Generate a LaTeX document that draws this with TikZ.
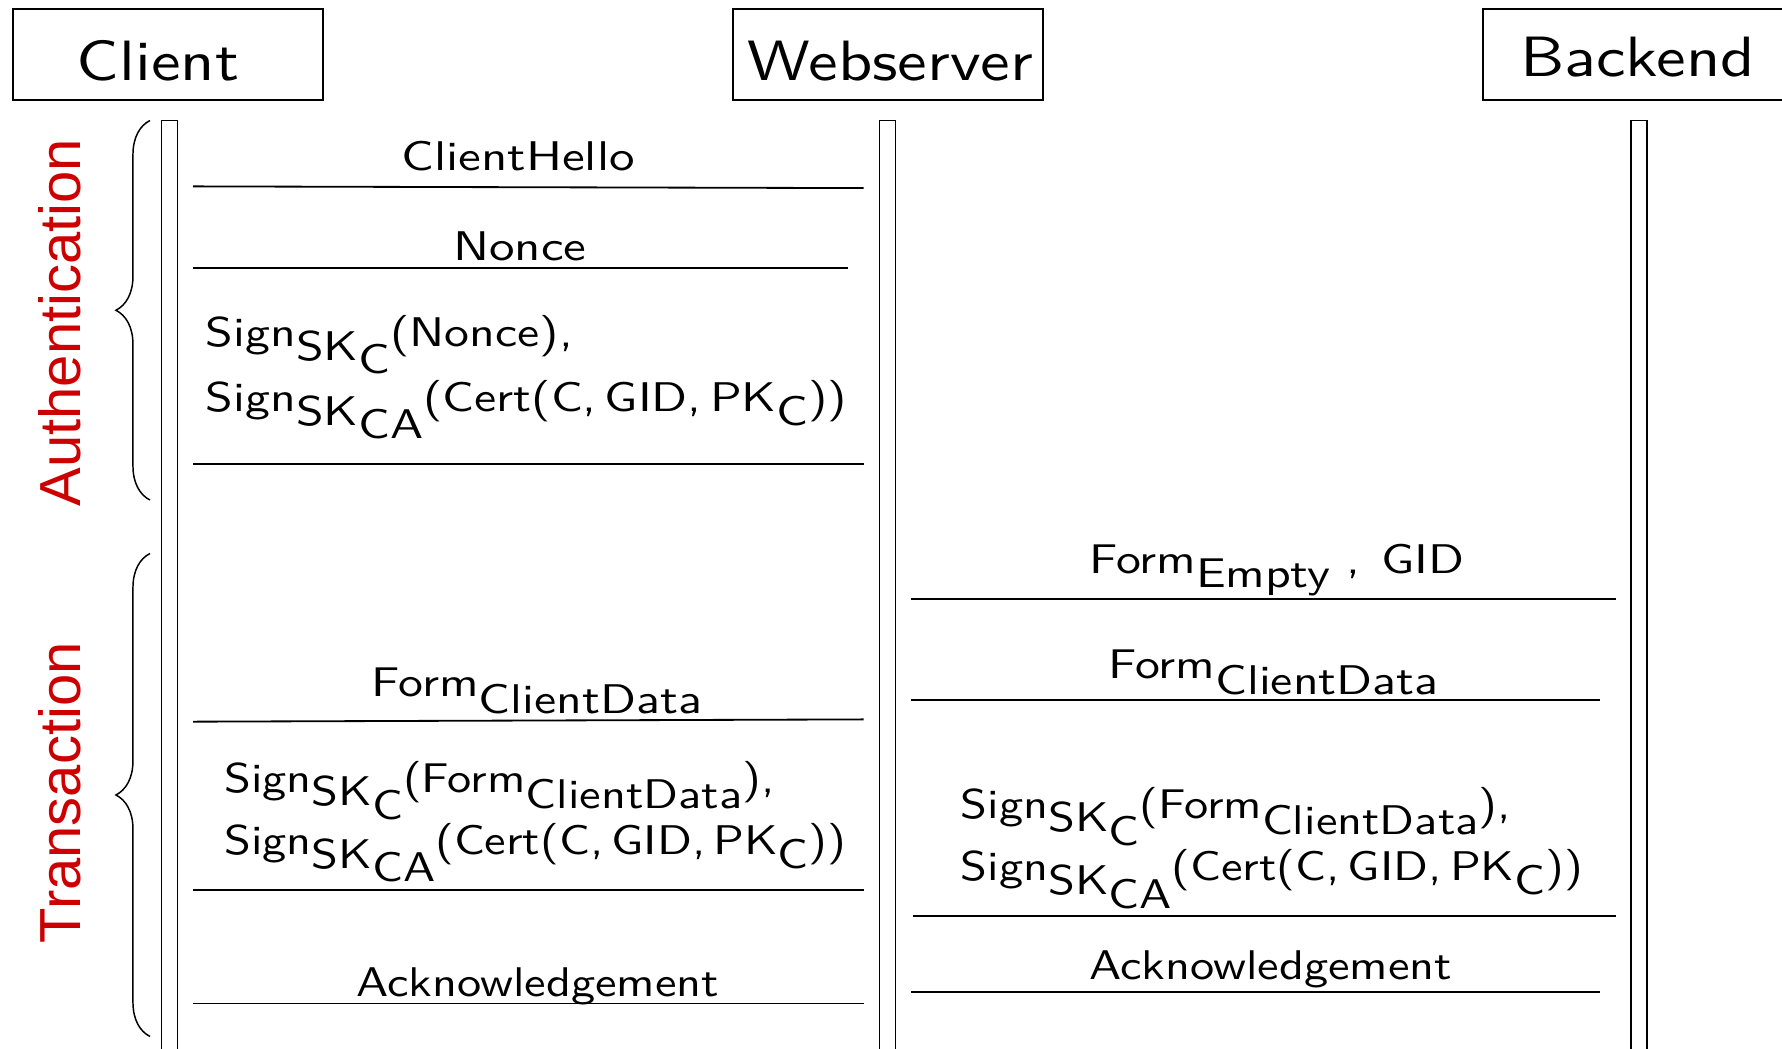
\documentclass[tikz,border=0pt]{standalone}
\usepackage{fontspec}
\newfontfamily\redfont{Liberation Sans}
\newfontfamily\lmss{lmsans10-regular}[Extension=.otf]
\usetikzlibrary{decorations.pathreplacing}
\definecolor{labred}{RGB}{204,0,0}
\newcommand\dn[1]{\raisebox{-12pt}{#1}}
\begin{document}
\begin{tikzpicture}[x=1pt,y=-1pt,
  headbox/.style={draw, line width=1.6pt, minimum width=273pt, minimum height=80pt, inner sep=0pt},
  headtext/.style={anchor=base, inner sep=0pt, xscale=1.17, font=\lmss\fontsize{50}{58}\selectfont},
  lifeline/.style={draw, line width=1.3pt},
  msg/.style={line width=1.6pt},
  lbl/.style={anchor=base, inner sep=0pt, xscale=#1, font=\lmss\fontsize{36.5}{44}\selectfont},
  lbl/.default=1.2,
  lbll/.style={lbl=#1, anchor=base west},
  lbll/.default=1.2,
  phase/.style={anchor=base, rotate=90, inner sep=0pt, text=labred, font=\redfont\fontsize{51}{51}\selectfont},
  brc/.style={line width=1.3pt, decorate, decoration={brace, amplitude=30pt}}
]
\clip (0,0) rectangle (1568,923);
\fill[white] (0,0) rectangle (1568,923);

% header boxes
\node[headbox] (client) at (148,47.7) {};
\node[headbox] (web) at (781.5,47.7) {};
\node[headbox] (back) at (1441.5,47.7) {};
\node[headtext] (clientT) at (139,71) {Client};
\node[headtext] (webT) at (783.5,71) {Webserver};
\node[headtext] (backT) at (1440.8,67.5) {Backend};

% lifelines
\draw[lifeline] (142,960) -- (142,106) -- (156,106) -- (156,960);
\draw[lifeline] (774,960) -- (774,106) -- (788,106) -- (788,960);
\draw[lifeline] (1435,960) -- (1435,106) -- (1449,106) -- (1449,960);

% braces
\coordinate (a1) at (132,440);
\coordinate (a2) at (132,106);
\coordinate (t1) at (132,912);
\coordinate (t2) at (132,487);
\draw[brc] (a1) -- (a2);
\draw[brc] (t1) -- (t2);
\node[phase] (auth) at (71,284) {Authentication};
\node[phase] (trans) at (71,697.5) {Transaction};

% left messages (client - webserver)
\coordinate (l1a) at (170,164); \coordinate (l1b) at (760,165.5);
\coordinate (l2a) at (170,236); \coordinate (l2b) at (746,236);
\coordinate (l3a) at (170,408); \coordinate (l3b) at (760,408);
\coordinate (l4a) at (170,635); \coordinate (l4b) at (760,633);
\coordinate (l5a) at (170,783); \coordinate (l5b) at (760,783);
\coordinate (l6a) at (170,883); \coordinate (l6b) at (760,883);
\foreach \i in {1,...,6} \draw[msg] (l\i a) -- (l\i b);

\node[lbl=1.23] (m1) at (456,150) {ClientHello};
\node[lbl=1.23] (m2) at (457.5,229) {Nonce};
\node[lbll=1.2] (m3a) at (181,305) {Sign\dn{SK\dn{C}}(Nonce),};
\node[lbll=1.2] (m3b) at (181,362) {Sign\dn{SK\dn{CA}}(Cert(C,\,GID,\,PK\dn{C}))};
\node[lbll] (m4) at (327,613) {Form\raisebox{-15pt}{ClientData}};
\node[lbll=1.165] (m5a) at (197,697) {Sign\dn{SK\dn{C}}(Form\raisebox{-14pt}{ClientData}),};
\node[lbll=1.165] (m5b) at (197,752) {Sign\dn{SK\dn{CA}}(Cert(C,\,GID,\,PK\dn{C}))};
\node[lbl=1.165] (m6) at (473,877) {Acknowledgement};

% right messages (webserver - backend)
\coordinate (r1a) at (802,527); \coordinate (r1b) at (1422,527);
\coordinate (r2a) at (802,616); \coordinate (r2b) at (1408,616);
\coordinate (r3a) at (803,806); \coordinate (r3b) at (1422,806);
\coordinate (r4a) at (802,873); \coordinate (r4b) at (1408,873);
\foreach \i in {1,...,4} \draw[msg] (r\i a) -- (r\i b);

\node[lbll] (n1) at (958,505) {Form\raisebox{-12pt}{Empty}\hspace{12pt},\hspace{15pt}GID};
\node[lbll] (n2) at (975,597) {Form\raisebox{-14pt}{ClientData}};
\node[lbll=1.165] (n3a) at (845,720) {Sign\dn{SK\dn{C}}(Form\raisebox{-14pt}{ClientData}),};
\node[lbll=1.165] (n3b) at (845,775) {Sign\dn{SK\dn{CA}}(Cert(C,\,GID,\,PK\dn{C}))};
\node[lbl=1.165] (n4) at (1118,862) {Acknowledgement};
\end{tikzpicture}
\end{document}
